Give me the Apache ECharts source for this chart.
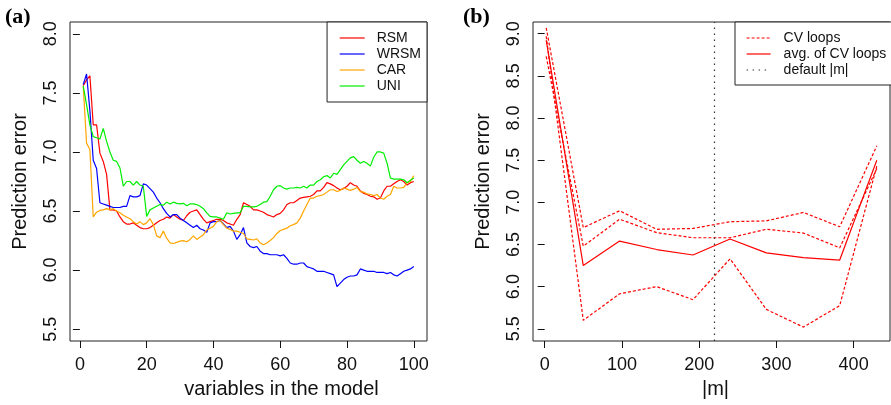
<!DOCTYPE html>
<html>
<head>
<meta charset="utf-8">
<script src="https://cdn.jsdelivr.net/npm/echarts@6/dist/echarts.min.js"></script>
<style>
  html, body { margin: 0; padding: 0; background: #fff; }
  #chart { width: 891px; height: 405px; }
</style>
</head>
<body>
<div id="chart"></div>
<script>
// panel (a): prediction error vs number of variables
const nVars = Array.from({ length: 100 }, (_, i) => i + 1);
const rsm = [7.56, 7.61, 7.645, 7.23, 7.23, 6.99, 6.92, 6.81, 6.51, 6.51,
  6.50, 6.45, 6.41, 6.39, 6.39, 6.40, 6.38, 6.36, 6.35, 6.35,
  6.36, 6.38, 6.40, 6.42, 6.43, 6.45, 6.44, 6.47, 6.45, 6.43,
  6.42, 6.46, 6.49, 6.50, 6.51, 6.47, 6.43, 6.40, 6.41, 6.42,
  6.43, 6.43, 6.42, 6.40, 6.39, 6.38, 6.43, 6.47, 6.57, 6.555,
  6.54, 6.51, 6.51, 6.50, 6.49, 6.47, 6.46, 6.45, 6.47, 6.48,
  6.51, 6.555, 6.57, 6.57, 6.59, 6.61, 6.615, 6.62, 6.625, 6.64,
  6.67, 6.67, 6.70, 6.74, 6.73, 6.715, 6.695, 6.68, 6.69, 6.71,
  6.74, 6.72, 6.71, 6.67, 6.65, 6.64, 6.625, 6.62, 6.60, 6.61,
  6.67, 6.71, 6.71, 6.73, 6.75, 6.765, 6.75, 6.72, 6.74, 6.75];
const wrsm = [7.57, 7.66, 7.35, 6.93, 6.86, 6.57, 6.56, 6.55, 6.54, 6.53,
  6.53, 6.53, 6.54, 6.54, 6.63, 6.62, 6.62, 6.63, 6.73, 6.72,
  6.69, 6.66, 6.61, 6.57, 6.52, 6.48, 6.45, 6.47, 6.47, 6.44,
  6.42, 6.40, 6.38, 6.36, 6.38, 6.35, 6.34, 6.32, 6.40, 6.41,
  6.41, 6.42, 6.39, 6.36, 6.37, 6.33, 6.26, 6.30, 6.36, 6.23,
  6.20, 6.19, 6.20, 6.16, 6.14, 6.14, 6.13, 6.13, 6.13, 6.12,
  6.13, 6.10, 6.06, 6.05, 6.05, 6.06, 6.06, 6.03, 6.02, 6.01,
  5.99, 5.99, 5.99, 5.98, 5.97, 5.96, 5.86, 5.89, 5.92, 5.94,
  5.95, 5.95, 5.96, 6.01, 6.00, 5.99, 5.99, 5.99, 5.98, 5.98,
  5.98, 5.97, 5.98, 5.96, 5.95, 5.97, 5.99, 6.00, 6.01, 6.03];
const car = [7.56, 7.075, 7.02, 6.45, 6.49, 6.505, 6.51, 6.52, 6.51, 6.52,
  6.50, 6.485, 6.465, 6.45, 6.435, 6.41, 6.39, 6.41, 6.385, 6.40,
  6.435, 6.385, 6.29, 6.275, 6.33, 6.27, 6.23, 6.225, 6.235, 6.245,
  6.25, 6.24, 6.26, 6.29, 6.26, 6.28, 6.30, 6.34, 6.355, 6.37,
  6.41, 6.42, 6.385, 6.355, 6.345, 6.33, 6.33, 6.32, 6.31, 6.265,
  6.26, 6.255, 6.265, 6.23, 6.215, 6.23, 6.25, 6.275, 6.31, 6.335,
  6.345, 6.355, 6.375, 6.385, 6.40, 6.44, 6.50, 6.555, 6.61, 6.61,
  6.625, 6.63, 6.64, 6.66, 6.68, 6.68, 6.665, 6.675, 6.695, 6.685,
  6.675, 6.685, 6.70, 6.665, 6.66, 6.645, 6.64, 6.63, 6.64, 6.61,
  6.60, 6.625, 6.64, 6.71, 6.695, 6.695, 6.70, 6.74, 6.75, 6.80];
const uni = [7.56, 7.40, 7.23, 7.13, 7.12, 7.11, 7.20, 7.09, 7.00, 6.93,
  6.92, 6.865, 6.71, 6.75, 6.75, 6.72, 6.75, 6.72, 6.71, 6.455,
  6.51, 6.525, 6.54, 6.555, 6.55, 6.575, 6.56, 6.575, 6.565, 6.56,
  6.565, 6.545, 6.56, 6.56, 6.555, 6.54, 6.52, 6.485, 6.455, 6.45,
  6.45, 6.44, 6.43, 6.485, 6.475, 6.48, 6.485, 6.485, 6.54, 6.54,
  6.535, 6.535, 6.54, 6.555, 6.575, 6.58, 6.625, 6.68, 6.71, 6.715,
  6.695, 6.685, 6.695, 6.695, 6.70, 6.695, 6.71, 6.695, 6.72, 6.72,
  6.75, 6.765, 6.79, 6.80, 6.78, 6.82, 6.81, 6.85, 6.89, 6.92,
  6.95, 6.96, 6.93, 6.905, 6.92, 6.905, 6.88, 6.955, 7.00, 7.00,
  6.99, 6.905, 6.78, 6.77, 6.77, 6.77, 6.765, 6.74, 6.76, 6.78];

// panel (b): prediction error vs |m|
const mSizes = [2, 50, 97, 145, 192, 240, 287, 335, 382, 430];
const cvLoop1 = [9.07, 6.70, 6.90, 6.68, 6.69, 6.77, 6.78, 6.88, 6.71, 7.67];
const cvLoop2 = [8.73, 6.48, 6.80, 6.64, 6.58, 6.58, 6.68, 6.635, 6.46, 7.40];
const cvLoop3 = [8.97, 5.60, 5.915, 6.00, 5.845, 6.33, 5.73, 5.52, 5.775, 7.43];
const cvAvg = [8.925, 6.25, 6.54, 6.44, 6.375, 6.565, 6.40, 6.345, 6.315, 7.50];
const defaultM = 219;

const xTicksA = [0, 20, 40, 60, 80, 100];
const yTicksA = [5.5, 6.0, 6.5, 7.0, 7.5, 8.0];
const xTicksB = [0, 100, 200, 300, 400];
const yTicksB = [5.5, 6.0, 6.5, 7.0, 7.5, 8.0, 8.5, 9.0];

const FONT = "'Liberation Sans', Arial, sans-serif";
const INK = "#111";

function pairs(xs, ys) {
  return xs.map((x, i) => [x, ys[i]]);
}

function xAxisCfg(gridIndex, min, max, ticks, name, namePad) {
  return {
    type: "value",
    gridIndex: gridIndex,
    min: min,
    max: max,
    name: name,
    nameLocation: "middle",
    nameGap: 38,
    nameTextStyle: { fontFamily: FONT, fontSize: 20, color: INK, padding: namePad },
    splitLine: { show: false },
    axisLine: { show: false },
    axisTick: { show: true, length: 7, customValues: ticks, lineStyle: { color: INK, width: 1 } },
    axisLabel: {
      customValues: ticks,
      margin: 15,
      fontFamily: FONT,
      fontSize: 18,
      color: INK,
      formatter: (v) => String(v),
    },
  };
}

function yAxisCfg(gridIndex, min, max, ticks) {
  return {
    type: "value",
    gridIndex: gridIndex,
    min: min,
    max: max,
    name: "Prediction error",
    nameLocation: "middle",
    nameRotate: 90,
    nameGap: 40,
    nameTextStyle: { fontFamily: FONT, fontSize: 20, color: INK },
    splitLine: { show: false },
    axisLine: { show: false },
    axisTick: { show: true, length: 7, customValues: ticks, lineStyle: { color: INK, width: 1 } },
    axisLabel: {
      customValues: ticks,
      rotate: 90,
      margin: 10,
      fontFamily: FONT,
      fontSize: 18,
      color: INK,
      formatter: (v) => v.toFixed(1),
    },
  };
}

function lineSeries(name, data, color, type, xi, yi) {
  return {
    name: name,
    type: "line",
    xAxisIndex: xi,
    yAxisIndex: yi,
    data: data,
    symbol: "none",
    showSymbol: false,
    lineStyle: { color: color, width: 1.2, type: type },
    itemStyle: { color: color },
  };
}

const chart = echarts.init(document.getElementById("chart"), null, { renderer: "canvas" });

const dash = [3, 2];
const dot = [1.5, 4.5];

// shared legend look: R style box, plain line samples without markers
const legendBase = {
  orient: "vertical",
  top: 22,
  itemHeight: 14,
  itemGap: 2,
  borderColor: "#222",
  borderWidth: 1,
  backgroundColor: "#fff",
  itemStyle: { opacity: 0 },
  lineStyle: { width: 1.2 },
};

const option = {
  animation: false,
  backgroundColor: "#fff",
  grid: [
    { left: 70, right: 464, top: 22, bottom: 64, show: true, borderColor: "#222", borderWidth: 1 },
    { left: 533, right: 1, top: 22, bottom: 64, show: true, borderColor: "#222", borderWidth: 1 },
  ],
  xAxis: [
    xAxisCfg(0, -2.96, 103.96, xTicksA, "variables in the model", [0, 0, 0, 66]),
    xAxisCfg(1, -15.1, 447.1, xTicksB, "|m|", [0, 0, 0, 8]),
  ],
  yAxis: [
    yAxisCfg(0, 5.4, 8.1, yTicksA),
    yAxisCfg(1, 5.355, 9.139, yTicksB),
  ],
  legend: [
    Object.assign({}, legendBase, {
      data: ["RSM", "WRSM", "CAR", "UNI"],
      right: 464,
      padding: [9, 6, 9, 12],
      itemWidth: 25,
      textStyle: { fontFamily: FONT, fontSize: 14, color: INK, padding: [0, 0, 0, 7] },
    }),
    Object.assign({}, legendBase, {
      data: ["CV loops", "avg. of CV loops", "default |m|"],
      left: 735,
      padding: [9, 12, 8, 11],
      itemWidth: 24,
      textStyle: { fontFamily: FONT, fontSize: 14, color: INK, padding: [0, 0, 0, 8] },
    }),
  ],
  graphic: [
    { type: "text", left: 5, top: 6, style: { text: "(a)", font: "bold 22px 'Liberation Serif', serif", fill: "#000" } },
    { type: "text", left: 463, top: 6, style: { text: "(b)", font: "bold 22px 'Liberation Serif', serif", fill: "#000" } },
  ],
  series: [
    lineSeries("RSM", pairs(nVars, rsm), "#ff0000", "solid", 0, 0),
    lineSeries("WRSM", pairs(nVars, wrsm), "#0000ff", "solid", 0, 0),
    lineSeries("CAR", pairs(nVars, car), "#ffa500", "solid", 0, 0),
    lineSeries("UNI", pairs(nVars, uni), "#00ee00", "solid", 0, 0),
    lineSeries("CV loops", pairs(mSizes, cvLoop1), "#ff0000", dash, 1, 1),
    lineSeries("CV loops", pairs(mSizes, cvLoop2), "#ff0000", dash, 1, 1),
    lineSeries("CV loops", pairs(mSizes, cvLoop3), "#ff0000", dash, 1, 1),
    lineSeries("avg. of CV loops", pairs(mSizes, cvAvg), "#ff0000", "solid", 1, 1),
    Object.assign(lineSeries("default |m|", [], "#333", dot, 1, 1), {
      markLine: {
        silent: true,
        symbol: ["none", "none"],
        label: { show: false },
        lineStyle: { color: "#333", type: dot, width: 1.2 },
        data: [{ xAxis: defaultM }],
      },
    }),
  ],
};

chart.setOption(option);
</script>
</body>
</html>
